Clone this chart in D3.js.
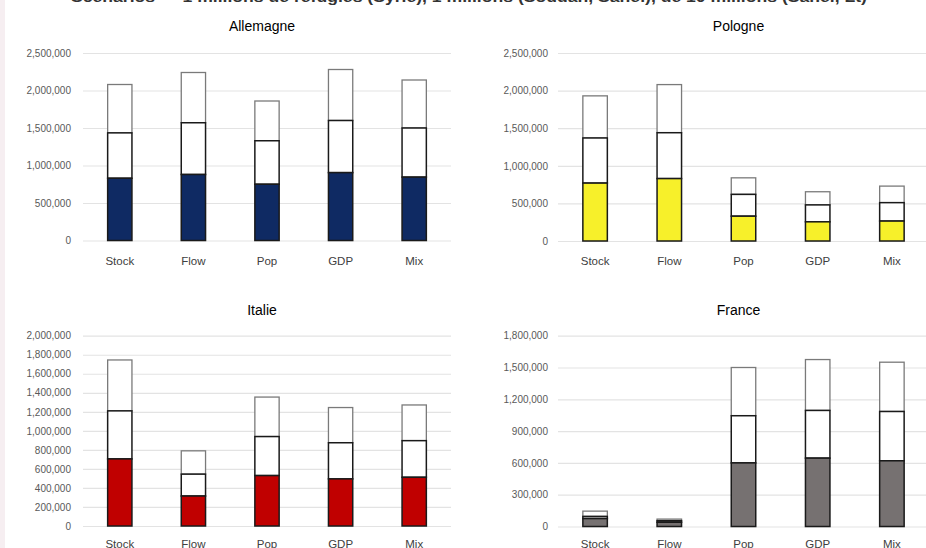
<!DOCTYPE html>
<html>
<head>
<meta charset="utf-8">
<script src="https://cdn.jsdelivr.net/npm/d3@7"></script>
<style>
  body { margin: 0; background: #fff; }
  svg { display: block; font-family: "Liberation Sans", Arial, sans-serif; }
</style>
</head>
<body>
<div id="chart"></div>
<script>
// categories and scenario labels
const categories = ["Stock", "Flow", "Pop", "GDP", "Mix"];
const mainTitle = "Scénarios — 1 millions de réfugiés (Syrie), 1 millions (Soudan, Sahel), de 10 millions (Sahel, Lt)";

// stacked segments per country (base / middle / top)
const allemagneBase = [830000, 880000, 750000, 905000, 845000];
const allemagneMid  = [605000, 690000, 580000, 695000, 655000];
const allemagneTop  = [645000, 670000, 530000, 680000, 640000];

const pologneBase = [770000, 830000, 330000, 255000, 265000];
const pologneMid  = [600000, 610000, 290000, 225000, 245000];
const pologneTop  = [560000, 640000, 220000, 175000, 220000];

const italieBase = [705000, 315000, 530000, 495000, 512000];
const italieMid  = [505000, 230000, 410000, 380000, 385000];
const italieTop  = [535000, 245000, 415000, 370000, 375000];

const franceBase = [75000, 40000, 600000, 645000, 620000];
const franceMid  = [20000, 15000, 445000, 450000, 465000];
const franceTop  = [50000, 15000, 455000, 480000, 465000];

// y tick values
const ticksAllemagne = [0, 500000, 1000000, 1500000, 2000000, 2500000];
const ticksPologne = [0, 500000, 1000000, 1500000, 2000000, 2500000];
const ticksItalie = [0, 200000, 400000, 600000, 800000, 1000000, 1200000, 1400000, 1600000, 1800000, 2000000];
const ticksFrance = [0, 300000, 600000, 900000, 1200000, 1500000, 1800000];

const panels = [
    { name: "Allemagne", base: allemagneBase, mid: allemagneMid, top: allemagneTop, ticks: ticksAllemagne,
      color: "#0f2a63", x0: 83, x1: 451, y0: 240.5, y1: 53, titleY: 31, catY: 267, labelX: 71 },
    { name: "Pologne", base: pologneBase, mid: pologneMid, top: pologneTop, ticks: ticksPologne,
      color: "#f7f02a", x0: 558, x1: 929, y0: 241, y1: 53, titleY: 31, catY: 267, labelX: 548 },
    { name: "Italie", base: italieBase, mid: italieMid, top: italieTop, ticks: ticksItalie,
      color: "#c00000", x0: 83, x1: 451, y0: 526, y1: 335.7, titleY: 315, catY: 550, labelX: 71 },
    { name: "France", base: franceBase, mid: franceMid, top: franceTop, ticks: ticksFrance,
      color: "#767171", x0: 558, x1: 929, y0: 526.5, y1: 335.7, titleY: 315, catY: 550, labelX: 548 }
];

const width = 926, height = 548;

const svg = d3.select("#chart")
    .append("svg")
    .attr("width", width)
    .attr("height", height);

svg.append("rect").attr("width", width).attr("height", height).attr("fill", "#fff");
// faint strip on the left edge of the screenshot
svg.append("rect").attr("x", 0).attr("y", 0).attr("width", 5).attr("height", height).attr("fill", "#f6eef1");

// main title (cut by the top edge, as in the screenshot)
svg.append("text")
    .attr("x", 71)
    .attr("y", 2)
    .attr("textLength", 796)
    .attr("lengthAdjust", "spacingAndGlyphs")
    .style("font-size", "14px")
    .style("font-weight", "bold")
    .attr("fill", "#333")
    .text(mainTitle);

const fmt = d3.format(",");

panels.forEach(p => {
    const g = svg.append("g");

    const x = d3.scaleBand()
        .domain(categories)
        .range([p.x0, p.x1])
        .paddingInner(0.67)
        .paddingOuter(0.335);

    const yMax = p.ticks[p.ticks.length - 1];
    const y = d3.scaleLinear()
        .domain([0, yMax])
        .range([p.y0, p.y1]);

    // gridlines
    g.append("g")
        .attr("transform", `translate(${p.x0},0)`)
        .call(d3.axisLeft(y).tickValues(p.ticks).tickSize(-(p.x1 - p.x0)).tickFormat(""))
        .call(a => a.select(".domain").remove())
        .selectAll("line")
        .attr("stroke", "#e3e3e3")
        .attr("stroke-width", 1.2);

    // y labels
    g.append("g")
        .attr("transform", `translate(${p.labelX},0)`)
        .call(d3.axisLeft(y).tickValues(p.ticks).tickSize(0).tickPadding(0).tickFormat(fmt))
        .call(a => a.select(".domain").remove())
        .selectAll("text")
        .style("font-size", "10px")
        .style("font-family", "\"Liberation Sans\", Arial, sans-serif")
        .attr("fill", "#595959");

    // category labels
    g.append("g")
        .attr("transform", `translate(0,${p.catY - 10})`)
        .call(d3.axisBottom(x).tickSize(0).tickPadding(0))
        .call(a => a.select(".domain").remove())
        .selectAll("text")
        .attr("dy", "0.71em")
        .style("font-size", "11.5px")
        .style("font-family", "\"Liberation Sans\", Arial, sans-serif")
        .attr("fill", "#404040");

    // title
    g.append("text")
        .attr("x", (p.x0 + p.x1) / 2 - 5)
        .attr("y", p.titleY)
        .attr("text-anchor", "middle")
        .style("font-size", "14px")
        .style("font-family", "\"Liberation Sans\", Arial, sans-serif")
        .attr("fill", "#000")
        .text(p.name);

    // stacked bars
    const rows = categories.map((c, i) => ({
        cat: c,
        b: p.base[i],
        m: p.mid[i],
        t: p.top[i]
    }));

    // top segment (grey outline)
    g.selectAll(".seg-top")
        .data(rows)
        .enter()
        .append("rect")
        .attr("x", d => x(d.cat))
        .attr("y", d => y(d.b + d.m + d.t))
        .attr("width", x.bandwidth())
        .attr("height", d => y(d.b + d.m) - y(d.b + d.m + d.t))
        .attr("fill", "#fff")
        .attr("stroke", "#7a7a7a")
        .attr("stroke-width", 1.3);

    // middle segment
    g.selectAll(".seg-mid")
        .data(rows)
        .enter()
        .append("rect")
        .attr("x", d => x(d.cat))
        .attr("y", d => y(d.b + d.m))
        .attr("width", x.bandwidth())
        .attr("height", d => y(d.b) - y(d.b + d.m))
        .attr("fill", "#fff")
        .attr("stroke", "#1a1a1a")
        .attr("stroke-width", 1.5);

    // base segment (country colour)
    g.selectAll(".seg-base")
        .data(rows)
        .enter()
        .append("rect")
        .attr("x", d => x(d.cat))
        .attr("y", d => y(d.b))
        .attr("width", x.bandwidth())
        .attr("height", d => y(0) - y(d.b))
        .attr("fill", p.color)
        .attr("stroke", "#1a1a1a")
        .attr("stroke-width", 1.5);
});
</script>
</body>
</html>
